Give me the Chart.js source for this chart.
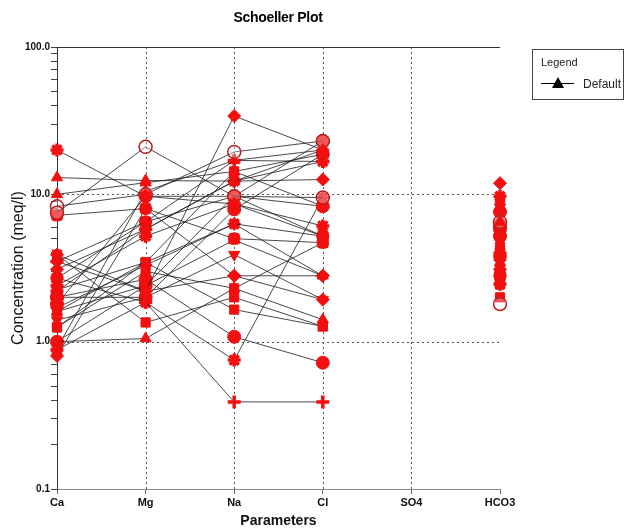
<!DOCTYPE html>
<html>
<head>
<meta charset="utf-8">
<script src="https://cdn.jsdelivr.net/npm/chart.js@4/dist/chart.umd.min.js"></script>
<style>
  html, body { margin: 0; padding: 0; background: #fff; }
  #wrap { position: relative; width: 627px; height: 530px; }
  #title { position: absolute; left: 178px; top: 9px; width: 200px; text-align: center;
    font-family: "Liberation Sans", Arial, sans-serif; font-weight: bold; font-size: 14px; color: #000; letter-spacing: -0.3px; }
  #legend { position: absolute; left: 532px; top: 49px; width: 92px; height: 51px;
    border: 1px solid #444; box-sizing: border-box; font-family: "Liberation Sans", Arial, sans-serif; color: #222; }
  #legend .t { position: absolute; left: 8px; top: 6px; font-size: 11px; }
  #legend .ln { position: absolute; left: 8px; top: 33px; width: 33px; height: 1px; background: #000; }
  #legend .tri { position: absolute; left: 19px; top: 27px; width: 0; height: 0;
    border-left: 6px solid transparent; border-right: 6px solid transparent; border-bottom: 11px solid #000; }
  #legend .d { position: absolute; left: 50px; top: 27px; font-size: 12px; }
</style>
</head>
<body>
<div id="wrap">
  <canvas id="c" width="627" height="530"></canvas>
  <div id="title">Schoeller Plot</div>
  <div id="legend"><span class="t">Legend</span><div class="ln"></div><div class="tri"></div><span class="d">Default</span></div>
</div>
<script>
// ---- data (meq/l) ----
const categories = ['Ca', 'Mg', 'Na', 'Cl', 'SO4', 'HCO3'];
const yTickValues = [0.1, 1, 10, 100];
const caValues   = [20, 13, 10, 7.5, 7.2, 8.3, 3.9, 3.5, 3.1, 2.7, 2.4, 2.25, 2.0, 1.8, 1.6, 1.4, 1.25, 1.0, 0.88, 0.8, 3.9, 2.0, 1.6, 2.7, 1.25, 3.5, 1.0, 2.2, 0.9, 1.7];
const mgValues   = [9.7, 12.4, 12.0, 21, 8.0, 10.0, 2.2, 6.5, 5.8, 1.85, 5.2, 3.45, 2.65, 9.7, 2.4, 2.0, 3.45, 1.05, 1.85, 8.0, 1.35, 2.0, 3.45, 6.5, 3.0, 2.2, 2.4, 5.8, 10.5, 3.3];
const naValues   = [8.6, 12.3, 14.3, 9.7, 5.0, 19.4, 34, 17, 12.3, 0.39, 8.6, 6.3, 1.08, 9.7, 4.9, 3.9, 1.65, 2.3, 0.75, 2.8, 2.0, 7.9, 14.3, 9.7, 2.3, 2.8, 9.7, 12.3, 17, 6.3];
const clValues   = [5.2, 20, 18.7, 9.5, 4.7, 23, 20, 16.7, 12.6, 0.39, 6.1, 5.2, 0.72, 8.3, 2.8, 1.93, 1.27, 1.41, 9.5, 2.8, 1.27, 18.7, 8.3, 5.2, 4.7, 1.93, 23, 16.7, 20, 2.8];
const so4Values  = caValues.map(() => null); // not measured
const hco3Values = [9.7, 6.5, 8.9, 1.8, 5.2, 6.5, 11.9, 3.8, 7.6, 2.8, 2.45, 3.45, 5.2, 6.1, 3.45, 2.8, 4.4, 3.1, 3.8, 6.5, 2.45, 7.6, 8.9, 2.8, 2.0, 3.1, 5.8, 4.0, 2.6, 3.6];

// ---- marker styles per sample ----
const markerStyles = ['star','triangle','triangle','circle','rectRounded','circle','rectRot','cross','rectRot','cross','star','crossRot','circle','circle','triangle','triangle','rect','triangle','star','rectRot','rect','circle','rect','rectRounded','rect','rectRot','circle','star','triangle','rectRot'];
const hollowIdx = [3, 5];
const flipIdx = [15];

const RED = '#f01010';
const datasets = caValues.map((_, i) => {
  const style = markerStyles[i];
  const hollow = hollowIdx.includes(i);
  const lineStyle = ['cross','crossRot','star'].includes(style);
  return {
    label: 'S' + (i + 1),
    data: [caValues[i], mgValues[i], naValues[i], clValues[i], so4Values[i], hco3Values[i]],
    borderColor: '#1a1a1a',
    borderWidth: 0.8,
    pointStyle: style,
    pointRotation: flipIdx.includes(i) ? 180 : 0,
    pointRadius: 6.5,
    pointBackgroundColor: hollow ? 'rgba(255,255,255,0.3)' : RED,
    pointBorderColor: hollow ? '#b52020' : RED,
    pointBorderWidth: lineStyle ? 3.5 : (hollow ? 1.5 : 1),
    spanGaps: false,
    tension: 0
  };
});

const gridPlugin = {
  id: 'gridPlugin',
  beforeDatasetsDraw(chart) {
    const { ctx, chartArea: a, scales } = chart;
    ctx.save();
    ctx.strokeStyle = '#555';
    ctx.lineWidth = 1;
    ctx.setLineDash([2, 3]);
    [10, 1].forEach(v => {
      const y = Math.round(scales.y.getPixelForValue(v)) + 0.5;
      ctx.beginPath(); ctx.moveTo(a.left, y); ctx.lineTo(a.right, y); ctx.stroke();
    });
    [1, 2, 3, 4].forEach(k => {
      const x = Math.round(scales.x.getPixelForValue(k)) + 0.5;
      ctx.beginPath(); ctx.moveTo(x, a.top); ctx.lineTo(x, a.bottom); ctx.stroke();
    });
    ctx.setLineDash([]);
    ctx.strokeStyle = '#333';
    const yt = Math.round(a.top) + 0.5;
    ctx.beginPath(); ctx.moveTo(a.left, yt); ctx.lineTo(a.right, yt); ctx.stroke();
    ctx.restore();
  }
};

new Chart(document.getElementById('c'), {
  type: 'line',
  data: { labels: categories, datasets },
  plugins: [gridPlugin],
  options: {
    responsive: false,
    animation: false,
    layout: { padding: { left: 0, right: 127, top: 47, bottom: 0 } },
    plugins: {
      legend: { display: false },
      tooltip: { enabled: false },
      title: { display: false }
    },
    scales: {
      x: {
        type: 'category',
        offset: false,
        afterFit: s => { s.height = 41; },
        grid: { display: true, drawOnChartArea: false, drawTicks: true, tickLength: 5, offset: false, color: '#666' },
        border: { display: true, color: '#888', width: 1 },
        ticks: { color: '#111', font: { family: 'Liberation Sans', size: 11, weight: 'bold' }, padding: 2, autoSkip: false, maxRotation: 0 },
        title: { display: true, text: 'Parameters', color: '#111', font: { family: 'Liberation Sans', size: 14, weight: 'bold' }, padding: { top: 0, bottom: 0 } }
      },
      y: {
        type: 'logarithmic',
        min: 0.1,
        max: 100,
        afterFit: s => { s.width = 57; },
        afterBuildTicks: s => {
          const t = [];
          for (let e = -1; e < 2; e++) {
            for (let m = 1; m < 10; m++) t.push({ value: +(m * Math.pow(10, e)).toPrecision(3) });
          }
          t.push({ value: 100 });
          s.ticks = t;
        },
        grid: { display: true, drawOnChartArea: false, drawTicks: true, tickLength: 6, color: '#444' },
        border: { display: true, color: '#333', width: 1 },
        ticks: {
          color: '#111',
          font: { family: 'Liberation Sans', size: 10, weight: 'bold' },
          padding: 1,
          autoSkip: false,
          callback: v => yTickValues.includes(+(+v).toPrecision(3)) ? (+v).toFixed(1) : ''
        },
        title: { display: true, text: 'Concentration (meq/l)', color: '#111', font: { family: 'Liberation Sans', size: 16 }, padding: { top: 9, bottom: 0 } }
      }
    }
  }
});
</script>
</body>
</html>
